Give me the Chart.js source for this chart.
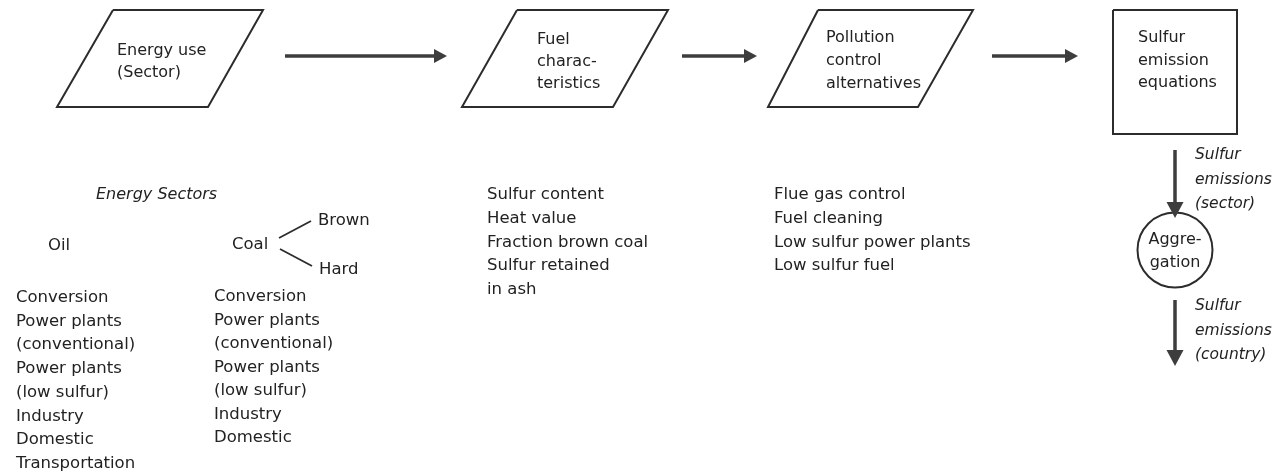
<!DOCTYPE html>
<html>
<head>
<meta charset="utf-8">
<script src="https://cdn.jsdelivr.net/npm/chart.js@4.4.1/dist/chart.umd.min.js"></script>
<style>
html, body { margin: 0; padding: 0; background: #fff; }
#wrap { width: 1277px; height: 474px; }
</style>
</head>
<body>
<div id="wrap"><canvas id="flow"></canvas></div>
<script>
// texts of the flow diagram
const stageLabels = [
  ['Energy use', '(Sector)'],
  ['Fuel', 'charac-', 'teristics'],
  ['Pollution', 'control', 'alternatives'],
  ['Sulfur', 'emission', 'equations']
];
const sectorTitle = 'Energy Sectors';
const fuelTypes = ['Oil', 'Coal'];
const coalKinds = ['Brown', 'Hard'];
const oilSectors = ['Conversion', 'Power plants', '(conventional)', 'Power plants', '(low sulfur)', 'Industry', 'Domestic', 'Transportation'];
const coalSectors = ['Conversion', 'Power plants', '(conventional)', 'Power plants', '(low sulfur)', 'Industry', 'Domestic'];
const fuelChars = ['Sulfur content', 'Heat value', 'Fraction brown coal', 'Sulfur retained', 'in ash'];
const controlOptions = ['Flue gas control', 'Fuel cleaning', 'Low sulfur power plants', 'Low sulfur fuel'];
const aggLabel = ['Aggre-', 'gation'];
const sectorFlow = ['Sulfur', 'emissions', '(sector)'];
const countryFlow = ['Sulfur', 'emissions', '(country)'];

// layout, in diagram units (x 0..1277, y 0..474 top-down)
const W = 1277, H = 474;
const stageShapes = [
  [[113, 10], [263, 10], [208, 107], [57, 107]],
  [[517, 10], [668, 10], [613, 107], [462, 107]],
  [[818, 10], [973, 10], [918, 107], [768, 107]],
  [[1113, 10], [1237, 10], [1237, 134], [1113, 134]]
];
const stageText = [[117, 49, 22], [537, 38, 22], [826, 36, 23], [1138, 36, 22.5]];
const arrows = [
  [285, 56, 447, 56],
  [682, 56, 757, 56],
  [992, 56, 1078, 56],
  [1175, 150, 1175, 218],
  [1175, 300, 1175, 366]
];
const aggNode = { x: 1175, y: 250, r: 37.5 };
const coalBranch = [
  [[279, 238], [311, 221]],
  [[280, 249], [312, 266]]
];

const INK = '#2c2c2c';
const FONT = '"DejaVu Sans", sans-serif';

const pts = a => a.map(p => ({ x: p[0], y: p[1] }));
const datasets = [];
stageShapes.forEach(s => {
  datasets.push({ data: pts(s.concat([s[0]])), showLine: true, borderColor: INK, borderWidth: 2, pointRadius: 0, fill: false, tension: 0 });
});
coalBranch.forEach(l => {
  datasets.push({ data: pts(l), showLine: true, borderColor: INK, borderWidth: 1.8, pointRadius: 0, fill: false });
});
datasets.push({
  data: [{ x: aggNode.x, y: aggNode.y }], showLine: false,
  pointRadius: aggNode.r, pointBorderWidth: 2, pointBorderColor: INK, pointBackgroundColor: '#fff'
});

const flowPlugin = {
  id: 'flow',
  afterDatasetsDraw(chart) {
    const ctx = chart.ctx;
    const sx = v => chart.scales.x.getPixelForValue(v);
    const sy = v => chart.scales.y.getPixelForValue(v);
    ctx.save();

    // arrows
    ctx.strokeStyle = '#3d3d3d';
    ctx.fillStyle = '#3d3d3d';
    arrows.forEach(([x1, y1, x2, y2]) => {
      const down = x1 === x2;
      const len = down ? 16 : 13, hw = down ? 8.5 : 7;
      const ax = sx(x1), ay = sy(y1), bx = sx(x2), by = sy(y2);
      ctx.lineWidth = 3.5;
      ctx.beginPath();
      if (down) { ctx.moveTo(ax, ay); ctx.lineTo(bx, by - len + 1); }
      else { ctx.moveTo(ax, ay); ctx.lineTo(bx - len + 1, by); }
      ctx.stroke();
      ctx.beginPath();
      if (down) { ctx.moveTo(bx, by); ctx.lineTo(bx - hw, by - len); ctx.lineTo(bx + hw, by - len); }
      else { ctx.moveTo(bx, by); ctx.lineTo(bx - len, by - hw); ctx.lineTo(bx - len, by + hw); }
      ctx.closePath();
      ctx.fill();
    });

    // texts
    ctx.fillStyle = '#222';
    ctx.textBaseline = 'alphabetic';
    ctx.textAlign = 'left';
    const lines = (arr, x, y, step, font) => {
      ctx.font = font;
      arr.forEach((t, i) => ctx.fillText(t, sx(x), sy(y + i * step) + 6));
    };
    const reg = '16px ' + FONT;
    const list = '16.5px ' + FONT;
    stageLabels.forEach((l, i) => lines(l, stageText[i][0], stageText[i][1], stageText[i][2], reg));

    lines([sectorTitle], 96, 193, 0, 'italic 16px ' + FONT);
    lines([fuelTypes[0]], 48, 244, 0, list);
    lines([fuelTypes[1]], 232, 243, 0, list);
    lines([coalKinds[0]], 318, 219, 0, list);
    lines([coalKinds[1]], 319, 268, 0, list);
    lines(oilSectors, 16, 296, 23.7, list);
    lines(coalSectors, 214, 295, 23.5, list);
    lines(fuelChars, 487, 193, 23.8, list);
    lines(controlOptions, 774, 193, 23.8, list);

    ctx.textAlign = 'center';
    lines(aggLabel, aggNode.x, 238, 23, reg);
    ctx.textAlign = 'left';
    lines(sectorFlow, 1195, 153, 24.5, 'italic 15.5px ' + FONT);
    lines(countryFlow, 1195, 304, 24.5, 'italic 15.5px ' + FONT);

    ctx.restore();
  }
};

new Chart(document.getElementById('flow').getContext('2d'), {
  type: 'scatter',
  data: { datasets },
  options: {
    responsive: true,
    maintainAspectRatio: false,
    animation: false,
    layout: { padding: 0, autoPadding: false },
    plugins: { legend: { display: false }, tooltip: { enabled: false } },
    scales: {
      x: { type: 'linear', min: 0, max: W, display: false },
      y: { type: 'linear', min: 0, max: H, reverse: true, display: false }
    }
  },
  plugins: [flowPlugin]
});
</script>
</body>
</html>
